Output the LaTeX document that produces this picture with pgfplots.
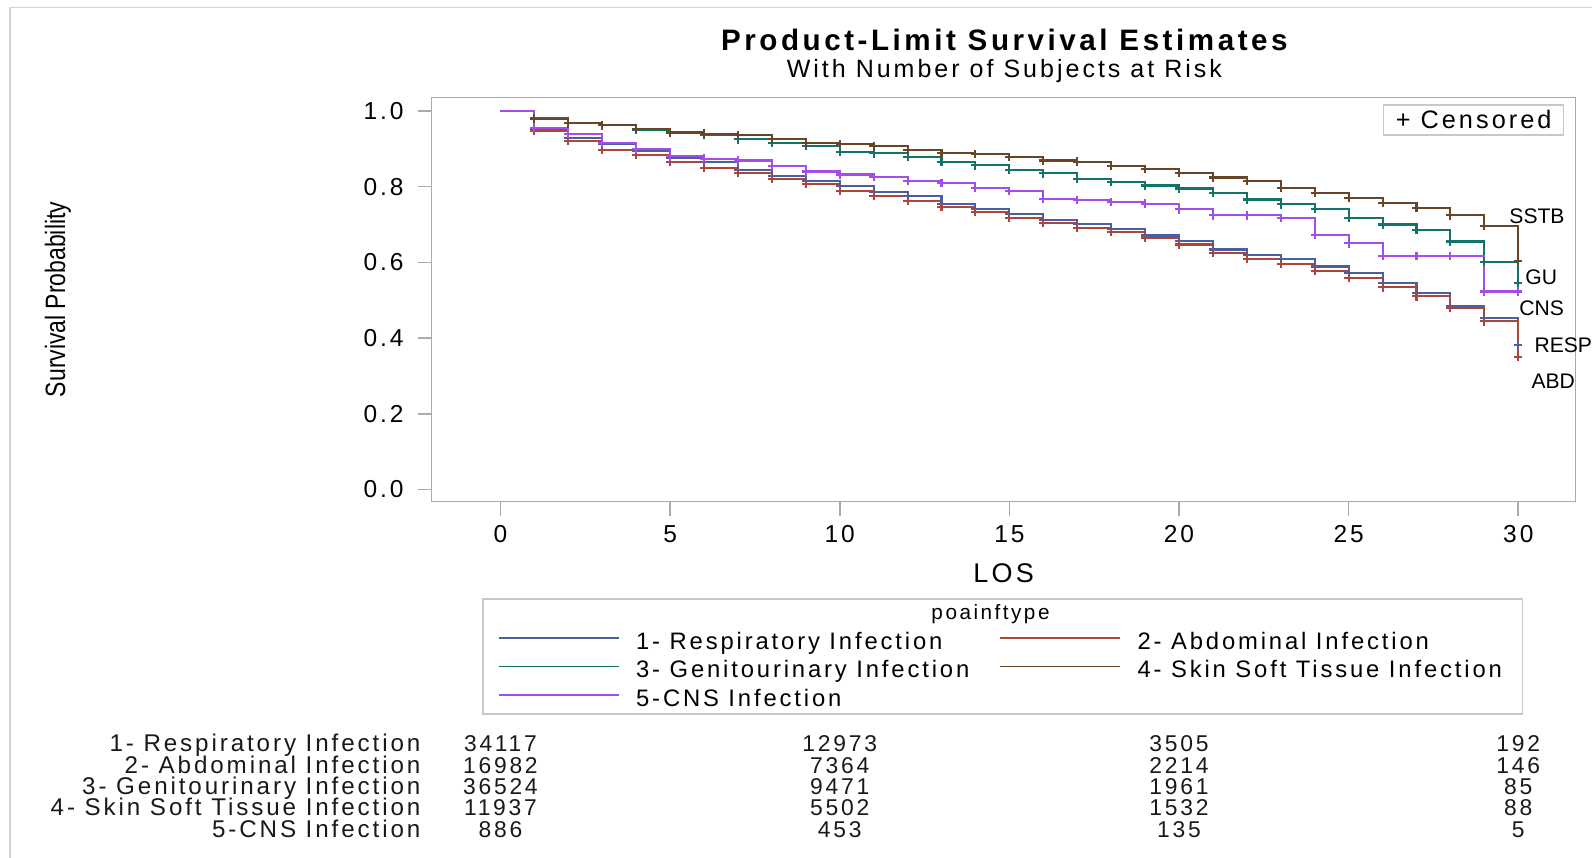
\documentclass[border=0pt]{standalone}
\usepackage{fontspec}
\setmainfont{Liberation Sans}
\newfontfamily\sas[LetterSpace=12]{Liberation Sans}
\newfontfamily\sasnarrow[FakeStretch=0.82]{Liberation Sans}
\usepackage{pgfplots}
\usepackage{pgfplotstable}
\pgfplotsset{compat=1.18}

\definecolor{cresp}{HTML}{4C5E9E}
\definecolor{cabd}{HTML}{AA463A}
\definecolor{cgu}{HTML}{147369}
\definecolor{csstb}{HTML}{684524}
\definecolor{ccns}{HTML}{A44EEA}
\definecolor{axgray}{HTML}{A7ABAF}
\definecolor{boxgray}{HTML}{C8C8C8}
\definecolor{framegray}{HTML}{D3D3D3}

\newcommand{\fs}[1]{\fontsize{#1}{#1}\selectfont}

% Kaplan-Meier estimates (level from day d to d+1)
\pgfplotstableread{
day resp  abd   gu    sstb  cns
0   1.000 1.000 1.000 1.000 1.000
1   0.953 0.947 0.982 0.978 0.956
2   0.929 0.920 0.968 0.967 0.940
3   0.912 0.897 0.962 0.963 0.916
4   0.894 0.883 0.951 0.953 0.900
5   0.877 0.865 0.943 0.943 0.880
6   0.865 0.850 0.937 0.940 0.874
7   0.845 0.836 0.925 0.936 0.869
8   0.829 0.821 0.916 0.925 0.854
9   0.816 0.808 0.907 0.916 0.840
10  0.801 0.788 0.891 0.912 0.832
11  0.786 0.775 0.888 0.908 0.825
12  0.775 0.762 0.878 0.897 0.816
13  0.753 0.746 0.865 0.888 0.810
14  0.740 0.733 0.856 0.886 0.797
15  0.727 0.718 0.845 0.879 0.788
16  0.713 0.704 0.835 0.869 0.768
17  0.702 0.691 0.820 0.866 0.765
18  0.687 0.680 0.812 0.854 0.760
19  0.671 0.665 0.803 0.847 0.755
20  0.656 0.647 0.795 0.836 0.740
21  0.634 0.625 0.784 0.824 0.724
22  0.620 0.610 0.766 0.815 0.724
23  0.609 0.596 0.753 0.797 0.717
24  0.589 0.578 0.741 0.784 0.672
25  0.572 0.559 0.718 0.771 0.650
26  0.545 0.534 0.700 0.757 0.617
27  0.519 0.510 0.685 0.744 0.617
28  0.484 0.480 0.655 0.724 0.617
29  0.453 0.444 0.602 0.697 0.523
30  0.382 0.351 0.545 0.604 0.523
}\kmdata

\begin{document}
\begin{tikzpicture}
\begin{scope}[x=0.1mm,y=0.1mm]
\path[use as bounding box] (0,0) rectangle (1592,858);
\draw[framegray, line width=0.15mm] (10,0) -- (10,850.7) -- (1592,850.7);
\node[font=\sas\bfseries\fs{8.42pt}, anchor=base, inner sep=0pt] at (1004.6,807.2) {Product-Limit Survival Estimates};
\node[font=\sas\fs{7.12pt}, anchor=base, inner sep=0pt] at (1004.6,780.8) {With Number of Subjects at Risk};
\node[font=\sasnarrow\fs{7.97pt}, rotate=90, inner sep=0pt] at (57.9,558.5) {Survival Probability};
\node[font=\sas\fs{7.68pt}, anchor=base, inner sep=0pt] at (1003.9,275.3) {LOS};
\draw[boxgray, line width=0.15mm] (483.3,259) rectangle (1523,144);
\node[font=\sas\fs{5.9pt}, anchor=base west, inner sep=0pt] at (931,238) {poainftype};
\draw[boxgray, line width=0.15mm] (1384,723) rectangle (1564,753);
\node[font=\sas\fs{7.2pt}, anchor=base, inner sep=0pt] at (1474,729.8) {+ Censored};
\end{scope}

\begin{axis}[
  at={(43.17mm,35.63mm)}, anchor=south west,
  scale only axis, width=114.43mm, height=40.44mm,
  xmin=-2.03, xmax=31.69, ymin=-0.032, ymax=1.036,
  xtick={0,5,10,15,20,25,30}, xticklabels={0,5,10,15,20,25,30},
  ytick={0,0.2,0.4,0.6,0.8,1}, yticklabels={0.0,0.2,0.4,0.6,0.8,1.0},
  tick align=outside, major tick length=1.4mm, tick pos=left,
  axis line style={draw=axgray, line width=0.45pt},
  tick style={draw=axgray, line width=0.45pt},
  ticklabel style={font=\sas\fs{6.98pt}, inner sep=0pt, text=black},
  xticklabel shift=0.93mm, yticklabel shift=1.34mm,
  clip=false,
  legend columns=2,
  legend cell align=left,
  legend style={at={(0.0575,-0.3185)}, anchor=north west, draw=none, fill=none,
    inner sep=0pt, row sep=0pt,
    nodes={inner sep=0pt, text height=1.8mm, text depth=1.05mm, font=\sas\fs{6.78pt}},
    /tikz/every odd column/.append style={column sep=1.65mm},
    /tikz/every even column/.append style={column sep=2.35mm}},
  legend image code/.code={\draw[#1, line width=0.45pt] (0mm,0.75mm) -- (12mm,0.75mm);},
  every axis plot/.append style={const plot, line width=0.6pt, mark=+, mark size=0.42mm,
    mark repeat=1, mark phase=2, mark options={solid, line width=0.6pt}},
]
\addplot[cresp] table[x=day, y=resp] {\kmdata};
\addlegendentry{\makebox[34mm][l]{1- Respiratory Infection}}
\addplot[cabd] table[x=day, y=abd] {\kmdata};
\addlegendentry{2- Abdominal Infection}
\addplot[cgu] table[x=day, y=gu] {\kmdata};
\addlegendentry{\makebox[34mm][l]{3- Genitourinary Infection}}
\addplot[csstb] table[x=day, y=sstb] {\kmdata};
\addlegendentry{4- Skin Soft Tissue Infection}
\addplot[ccns] table[x=day, y=cns] {\kmdata};
\addlegendentry{\makebox[34mm][l]{5-CNS Infection}}

% curve labels
\begin{scope}[every node/.style={font=\fs{6pt}, inner sep=0pt, anchor=west}]
\node at (axis cs:29.72,0.722) {SSTB};
\node at (axis cs:30.19,0.560) {GU};
\node at (axis cs:30.01,0.478) {CNS};
\node at (axis cs:30.46,0.382) {RESP};
\node at (axis cs:30.37,0.285) {ABD};
\end{scope}

% number of subjects at risk
\begin{scope}[every node/.style={font=\sas\fs{6.88pt}, inner sep=0pt, anchor=base east, text=black!90}]
\node at (axis cs:-2.34,-0.693) {1- Respiratory Infection};
\node at (axis cs:-2.34,-0.749) {2- Abdominal Infection};
\node at (axis cs:-2.34,-0.806) {3- Genitourinary Infection};
\node at (axis cs:-2.34,-0.862) {4- Skin Soft Tissue Infection};
\node at (axis cs:-2.34,-0.918) {5-CNS Infection};
\end{scope}
\begin{scope}[every node/.style={font=\sas\fs{6.5pt}, inner sep=0pt, anchor=base, text=black!90}]
\node at (axis cs:0,-0.693) {34117};
\node at (axis cs:10,-0.693) {12973};
\node at (axis cs:20,-0.693) {3505};
\node at (axis cs:30,-0.693) {192};
\node at (axis cs:0,-0.749) {16982};
\node at (axis cs:10,-0.749) {7364};
\node at (axis cs:20,-0.749) {2214};
\node at (axis cs:30,-0.749) {146};
\node at (axis cs:0,-0.806) {36524};
\node at (axis cs:10,-0.806) {9471};
\node at (axis cs:20,-0.806) {1961};
\node at (axis cs:30,-0.806) {85};
\node at (axis cs:0,-0.862) {11937};
\node at (axis cs:10,-0.862) {5502};
\node at (axis cs:20,-0.862) {1532};
\node at (axis cs:30,-0.862) {88};
\node at (axis cs:0,-0.918) {886};
\node at (axis cs:10,-0.918) {453};
\node at (axis cs:20,-0.918) {135};
\node at (axis cs:30,-0.918) {5};
\end{scope}
\end{axis}
\end{tikzpicture}
\end{document}
